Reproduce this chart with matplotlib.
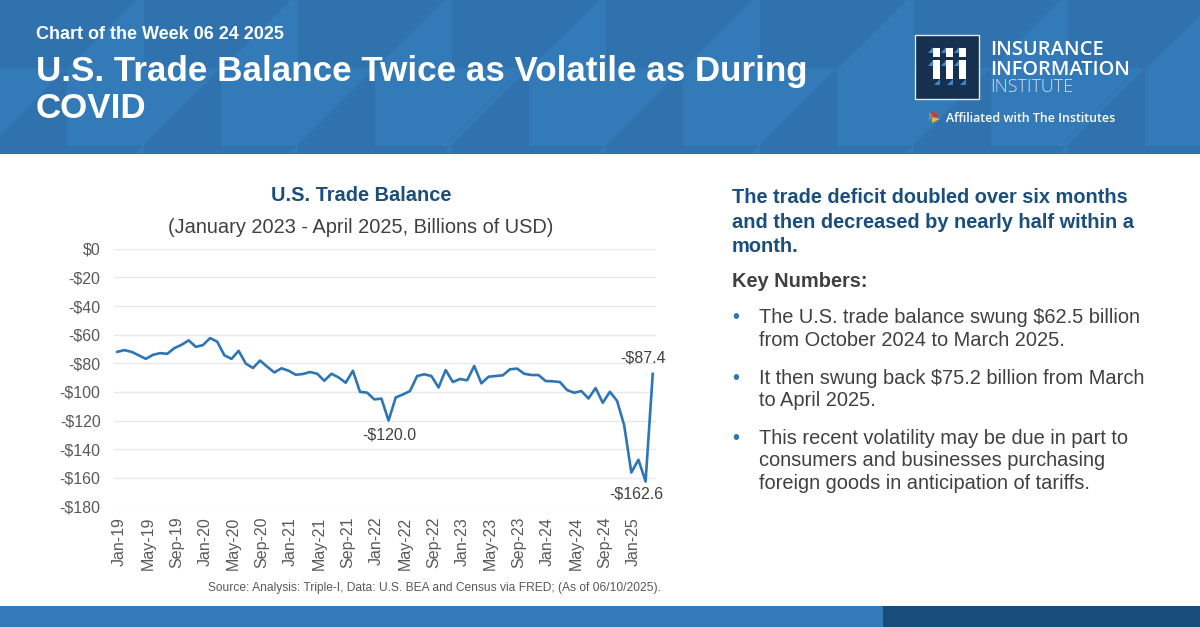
import matplotlib
matplotlib.use("Agg")
import matplotlib.pyplot as plt
from matplotlib.patches import Polygon, Rectangle
from matplotlib.transforms import ScaledTranslation

plt.rcParams["font.family"] = ["Liberation Sans", "DejaVu Sans"]

# monthly trade balance, Jan-19 to Apr-25 (billions of USD)
balance = [-72.0, -70.8, -72.0, -74.4, -76.9, -74.1, -72.9, -73.4, -69.4, -67.1, -64.0, -68.5,
           -67.3, -62.4, -64.9, -74.4, -76.9, -71.3, -80.2, -83.3, -78.1, -82.4, -86.4, -83.5,
           -85.2, -88.0, -87.5, -86.1, -87.3, -92.2, -87.3, -89.9, -93.6, -85.2, -100.0, -100.5,
           -105.2, -104.7, -120.0, -103.9, -101.8, -99.4, -88.9, -87.7, -88.9, -96.9, -84.7, -93.1,
           -91.0, -91.9, -81.9, -94.0, -89.4, -88.9, -88.4, -84.2, -83.7, -87.3, -88.2, -88.2,
           -92.4, -92.6, -93.1, -98.7, -100.6, -99.4, -104.6, -97.3, -107.6, -99.9, -106.2, -123.3,
           -156.3, -147.4, -162.6, -87.4]
x_labels = ["Jan-19", "May-19", "Sep-19", "Jan-20", "May-20", "Sep-20", "Jan-21", "May-21", "Sep-21",
            "Jan-22", "May-22", "Sep-22", "Jan-23", "May-23", "Sep-23", "Jan-24", "May-24", "Sep-24", "Jan-25"]
y_ticks = [0, -20, -40, -60, -80, -100, -120, -140, -160, -180]
y_labels = ["$0", "-$20", "-$40", "-$60", "-$80", "-$100", "-$120", "-$140", "-$160", "-$180"]

W, H = 1200, 627
LIGHT = "#337ab8"
DARK = "#2f72ad"
NAVY = "#184c79"
GREY = "#595959"

fig = plt.figure(figsize=(12, 6.27), dpi=100)

# full figure layer in pixel coords for the banner, logo and text
bg = fig.add_axes([0, 0, 1, 1])
bg.set_xlim(0, W)
bg.set_ylim(H, 0)
bg.axis("off")


def txt(x, y, s, px, color="white", weight="normal", ha="left", family=None):
    t = bg.text(x, y, s, fontsize=px * 0.72, color=color, weight=weight,
                ha=ha, va="baseline", parse_math=False)
    if family:
        t.set_family(family)
    return t


# banner
bg.add_patch(Rectangle((0, 0), W, 153.5, color=LIGHT, lw=0))
for k in range(-1, 9):
    o = 154 * k
    bg.add_patch(Polygon([(o - 10, 0), (o + 137, 0), (o + 68, 68), (o - 10, 68)], color=DARK, lw=0))
    bg.add_patch(Polygon([(o + 67, 68), (o + 67, 146), (o - 11, 146)], color=DARK, lw=0))
bg.add_patch(Rectangle((0, 146), W, 7.5, color=DARK, lw=0))
for k in range(1, 9):
    o = 154 * k
    bg.add_patch(Polygon([(o - 11, 146), (o - 19, 153.5), (o - 10, 153.5), (o - 10, 146)], color=LIGHT, lw=0))

txt(36, 39, "Chart of the Week 06 24 2025", 18, weight="bold")
txt(36, 81, "U.S. Trade Balance Twice as Volatile as During", 35, weight="bold")
txt(36, 118, "COVID", 35, weight="bold")

# logo
bg.add_patch(Rectangle((914.5, 35), 64, 64, fc="#16304f", ec="#dfe8f0", lw=1))
for bx in [933.3, 946.2, 959.2]:
    bg.add_patch(Polygon([(bx - 5, 53), (bx, 53), (bx, 47)], color="#3f86cc", lw=0))
    bg.add_patch(Polygon([(bx - 5, 66), (bx, 66), (bx, 60)], color="#3f86cc", lw=0))
    bg.add_patch(Polygon([(bx + 1, 85), (bx + 6.5, 85), (bx + 6.5, 79)], color="#3f86cc", lw=0))
    bg.add_patch(Rectangle((bx, 48), 6.5, 9, color="white", lw=0))
    bg.add_patch(Rectangle((bx, 60), 6.5, 19, color="white", lw=0))

txt(990, 55, "INSURANCE", 20.2, weight="semibold", family="Open Sans")
txt(990, 75, "INFORMATION", 20, weight="semibold", family="Open Sans")
txt(990, 92, "INSTITUTE", 18, color="#cfe0ef", weight="light", family="Open Sans")
txt(946, 122, "Affiliated with The Institutes", 12.35, weight="semibold", family="Open Sans")
bg.add_patch(Polygon([(929, 112), (933, 115), (929, 122)], color="#6f8fb5", lw=0))
bg.add_patch(Polygon([(932, 111), (940, 115), (932, 118)], color="#c8402f", lw=0))
bg.add_patch(Polygon([(932, 117), (940, 119), (932, 123)], color="#f2b632", lw=0))

# footer band
bg.add_patch(Rectangle((0, 606), 883, 21, color=LIGHT, lw=0))
bg.add_patch(Rectangle((883, 606), 317, 21, color=NAVY, lw=0))

# right hand text
txt(732, 203, "The trade deficit doubled over six months", 20, color="#1a4e7c", weight="bold")
txt(732, 228, "and then decreased by nearly half within a", 20, color="#1a4e7c", weight="bold")
txt(732, 252, "month.", 20, color="#1a4e7c", weight="bold")
txt(732, 287, "Key Numbers:", 20, color="#404040", weight="bold")
bullets = [(323, ["The U.S. trade balance swung $62.5 billion", "from October 2024 to March 2025."]),
           (384, ["It then swung back $75.2 billion from March", "to April 2025."]),
           (444, ["This recent volatility may be due in part to", "consumers and businesses purchasing",
                  "foreign goods in anticipation of tariffs."])]
for y0, lines in bullets:
    txt(732, y0, "•", 20, color="#2e75b6")
    for i, line in enumerate(lines):
        txt(759, y0 + i * 22.5, line, 20, color="#404040")

# chart titles and source
txt(361, 201, "U.S. Trade Balance", 20, color="#1a4e7c", weight="bold", ha="center")
txt(361, 233, "(January 2023 - April 2025, Billions of USD)", 20, color="#404040", ha="center")
txt(660.5, 590.5, "Source: Analysis: Triple-I, Data: U.S. BEA and Census via FRED; (As of 06/10/2025).", 12, color=GREY, ha="right")

# line chart
ax = fig.add_axes([113.7 / W, 1 - 506.4 / H, 542.6 / W, 257.6 / H])
ax.patch.set_alpha(0)
ax.plot(range(len(balance)), balance, color="#2e75b6", lw=1.9, solid_joinstyle="round", zorder=3)
ax.set_xlim(-0.5, len(balance) - 0.5)
ax.set_ylim(-180, 0)
ax.set_yticks(y_ticks)
ax.set_yticklabels(y_labels, fontsize=11.5, color=GREY, parse_math=False)
ax.set_xticks(range(0, len(balance), 4))
ax.set_xticklabels(x_labels, rotation=90, fontsize=11.5, color=GREY)
ax.tick_params(length=0)
ax.tick_params(axis="y", pad=9.5)
ax.tick_params(axis="x", pad=7.5)
ax.grid(axis="y", color="#e9e9e9", lw=1)
ax.set_axisbelow(True)
for s in ax.spines.values():
    s.set_visible(False)

# rotated labels sit a bit left of their ticks, nudge them over
shift = ScaledTranslation(2 / 100, 0, fig.dpi_scale_trans)
for lab in ax.get_xticklabels():
    lab.set_transform(lab.get_transform() + shift)

# callouts
ax.annotate("-$120.0", (38, -120), xytext=(1, -19), textcoords="offset pixels", ha="center", va="baseline", fontsize=11.5, color="#404040", parse_math=False)
ax.annotate("-$87.4", (75, -87.4), xytext=(-10, 8), textcoords="offset pixels", ha="center", va="bottom", fontsize=11.5, color="#404040", parse_math=False)
ax.annotate("-$162.6", (74, -162.6), xytext=(-9, -17), textcoords="offset pixels", ha="center", va="baseline", fontsize=11.5, color="#404040", parse_math=False)

fig.savefig("out.png", dpi=100)
